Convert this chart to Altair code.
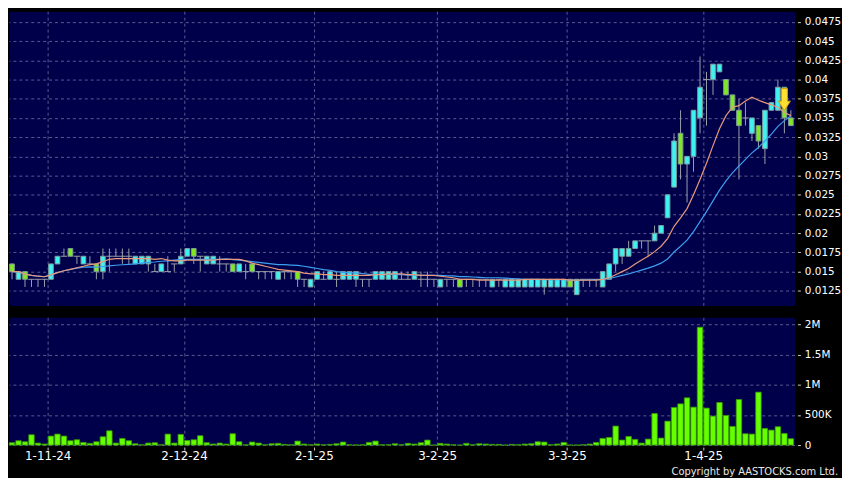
import altair as alt
import pandas as pd

# ---------------- data ----------------
bar_index = list(range(121))

opens = [0.016, 0.014, 0.015, 0.014, 0.014, 0.014, 0.014, 0.016, 0.017, 0.018,
         0.017, 0.016, 0.016, 0.016, 0.015, 0.017, 0.017, 0.017, 0.017, 0.016,
         0.016, 0.016, 0.015, 0.015, 0.015, 0.016, 0.016, 0.017, 0.018, 0.017,
         0.016, 0.016, 0.016, 0.016, 0.016, 0.015, 0.015, 0.016, 0.015, 0.015,
         0.015, 0.014, 0.015, 0.015, 0.015, 0.014, 0.013, 0.014, 0.014, 0.014,
         0.014, 0.014, 0.014, 0.014, 0.014, 0.014, 0.014, 0.014, 0.014, 0.014,
         0.014, 0.014, 0.014, 0.014, 0.014, 0.014, 0.013, 0.014, 0.014, 0.014,
         0.014, 0.014, 0.014, 0.014, 0.013, 0.014, 0.013, 0.013, 0.013, 0.013,
         0.013, 0.013, 0.013, 0.013, 0.013, 0.013, 0.014, 0.012, 0.014, 0.014,
         0.014, 0.013, 0.014, 0.016, 0.017, 0.017, 0.018, 0.019, 0.019, 0.019,
         0.020, 0.022, 0.026, 0.033, 0.029, 0.030, 0.035, 0.040, 0.040, 0.041,
         0.040, 0.038, 0.036, 0.035, 0.033, 0.034, 0.031, 0.036, 0.036, 0.039,
         0.035]
highs = [0.016, 0.015, 0.015, 0.014, 0.014, 0.014, 0.016, 0.017, 0.018, 0.018,
         0.017, 0.017, 0.017, 0.016, 0.018, 0.018, 0.018, 0.018, 0.018, 0.017,
         0.017, 0.017, 0.016, 0.016, 0.017, 0.016, 0.018, 0.018, 0.018, 0.017,
         0.017, 0.017, 0.017, 0.016, 0.016, 0.016, 0.016, 0.016, 0.015, 0.015,
         0.015, 0.015, 0.015, 0.015, 0.015, 0.014, 0.014, 0.015, 0.015, 0.015,
         0.015, 0.015, 0.015, 0.015, 0.014, 0.014, 0.015, 0.015, 0.015, 0.015,
         0.015, 0.015, 0.015, 0.015, 0.015, 0.014, 0.014, 0.014, 0.014, 0.014,
         0.014, 0.014, 0.014, 0.014, 0.014, 0.014, 0.014, 0.014, 0.014, 0.014,
         0.014, 0.014, 0.014, 0.014, 0.014, 0.014, 0.014, 0.014, 0.014, 0.014,
         0.014, 0.015, 0.016, 0.018, 0.018, 0.019, 0.019, 0.019, 0.019, 0.021,
         0.021, 0.025, 0.033, 0.036, 0.030, 0.036, 0.043, 0.041, 0.042, 0.042,
         0.040, 0.038, 0.0375, 0.037, 0.035, 0.034, 0.036, 0.037, 0.040, 0.039,
         0.036]
lows = [0.014, 0.014, 0.013, 0.013, 0.013, 0.013, 0.014, 0.016, 0.017, 0.017,
        0.016, 0.016, 0.016, 0.014, 0.014, 0.015, 0.017, 0.016, 0.016, 0.016,
        0.016, 0.015, 0.015, 0.015, 0.015, 0.015, 0.016, 0.017, 0.016, 0.015,
        0.016, 0.016, 0.015, 0.015, 0.015, 0.015, 0.014, 0.015, 0.014, 0.014,
        0.014, 0.014, 0.014, 0.014, 0.013, 0.013, 0.013, 0.014, 0.014, 0.014,
        0.013, 0.014, 0.014, 0.013, 0.013, 0.013, 0.014, 0.014, 0.014, 0.014,
        0.014, 0.014, 0.014, 0.013, 0.013, 0.013, 0.013, 0.013, 0.013, 0.013,
        0.013, 0.013, 0.013, 0.013, 0.013, 0.013, 0.013, 0.013, 0.013, 0.013,
        0.013, 0.013, 0.012, 0.013, 0.013, 0.013, 0.013, 0.012, 0.013, 0.013,
        0.013, 0.013, 0.014, 0.015, 0.016, 0.017, 0.018, 0.018, 0.017, 0.019,
        0.020, 0.022, 0.026, 0.027, 0.024, 0.028, 0.033, 0.034, 0.038, 0.041,
        0.038, 0.036, 0.027, 0.034, 0.032, 0.031, 0.029, 0.036, 0.036, 0.033,
        0.034]
closes = [0.015, 0.015, 0.014, 0.014, 0.014, 0.014, 0.016, 0.017, 0.017, 0.017,
          0.017, 0.017, 0.016, 0.015, 0.017, 0.017, 0.017, 0.017, 0.017, 0.017,
          0.017, 0.017, 0.015, 0.016, 0.015, 0.016, 0.017, 0.018, 0.017, 0.017,
          0.017, 0.017, 0.016, 0.016, 0.015, 0.016, 0.015, 0.015, 0.015, 0.015,
          0.015, 0.015, 0.015, 0.015, 0.014, 0.014, 0.014, 0.015, 0.014, 0.015,
          0.014, 0.015, 0.015, 0.015, 0.014, 0.014, 0.015, 0.015, 0.015, 0.015,
          0.014, 0.014, 0.015, 0.014, 0.014, 0.014, 0.014, 0.014, 0.014, 0.013,
          0.014, 0.014, 0.014, 0.014, 0.014, 0.014, 0.014, 0.014, 0.014, 0.014,
          0.014, 0.014, 0.014, 0.014, 0.014, 0.014, 0.013, 0.014, 0.014, 0.014,
          0.014, 0.015, 0.016, 0.018, 0.018, 0.018, 0.019, 0.019, 0.019, 0.020,
          0.021, 0.025, 0.032, 0.029, 0.030, 0.036, 0.039, 0.040, 0.042, 0.042,
          0.038, 0.036, 0.034, 0.035, 0.035, 0.032, 0.036, 0.037, 0.039, 0.035,
          0.034]
volume_k = [39, 72, 55, 171, 33, 17, 149, 182, 149, 72,
            88, 44, 28, 55, 138, 237, 33, 110, 72, 22,
            5, 33, 39, 5, 182, 33, 177, 77, 88, 155,
            39, 17, 33, 17, 188, 55, 5, 50, 33, 5,
            22, 28, 11, 5, 66, 17, 5, 17, 5, 11,
            22, 50, 5, 2, 5, 44, 66, 5, 5, 22,
            5, 28, 17, 39, 83, 0, 28, 17, 5, 0,
            28, 5, 22, 17, 11, 11, 0, 11, 5, 17,
            22, 55, 50, 5, 17, 44, 0, 0, 5, 17,
            44, 110, 127, 315, 83, 143, 94, 33, 99, 524,
            116, 397, 624, 684, 784, 629, 1955, 613, 480, 707,
            491, 309, 756, 188, 182, 878, 276, 248, 304, 193,
            105]

date_grid = [5.5, 26.5, 46.5, 65.5, 85.5, 106.5]
date_labels = ["1-11-24", "2-12-24", "2-1-25", "3-2-25", "3-3-25", "1-4-25"]
price_ticks = [0.0125, 0.015, 0.0175, 0.02, 0.0225, 0.025, 0.0275, 0.03,
               0.0325, 0.035, 0.0375, 0.04, 0.0425, 0.045, 0.0475]
volume_ticks = [0, 500000, 1000000, 1500000, 2000000]
signal_bar = [119]
signal_price = [0.0374]

# ---------------- styling ----------------
NAVY = "#00004a"
CYAN = "#3ff2f2"
LIME = "#80e81e"
WICK = "#9aa0a8"
GRIDC = "#5a5a92"
W = 793

df = pd.DataFrame({"i": bar_index, "open": opens, "high": highs, "low": lows,
                   "close": closes, "vol": [v * 1000 for v in volume_k]})
sig = pd.DataFrame({"i": signal_bar, "p": signal_price})

xscale = alt.Scale(domain=[-0.468, 120.55], nice=False, zero=False)
yscale = alt.Scale(domain=[0.0106, 0.04889], nice=False, zero=False)
vscale = alt.Scale(domain=[0, 2120000], nice=False)

label_expr = ("[" + ",".join("'%s'" % s for s in date_labels) + "][indexof(["
              + ",".join(str(v) for v in date_grid) + "], datum.value)]")

x_top_axis = alt.Axis(values=date_grid, labels=False, ticks=False, grid=True,
                      domain=False, title=None)
x_bot_axis = alt.Axis(values=date_grid, labelExpr=label_expr, grid=True,
                      domain=False, title=None, tickSize=3, offset=2,
                      labelPadding=1, labelFontSize=12, labelFlush=False)
y_axis = alt.Axis(orient="right", values=price_ticks, format=".4~f", grid=True,
                  tickSize=3, offset=3, labelPadding=4, title=None, domain=False,
                  labelFontSize=10.5)
v_axis = alt.Axis(orient="right", values=volume_ticks, grid=True, tickSize=3,
                  offset=3, labelPadding=4, title=None, domain=False,
                  labelFontSize=10.5,
                  labelExpr="datum.value == 0 ? '0' : (datum.value < 1000000 ? "
                            "format(datum.value/1000, '~f') + 'K' : "
                            "format(datum.value/1000000, '~f') + 'M')")


def X(f):
    return alt.X(f + ":Q", scale=xscale, axis=x_top_axis)


def Y(f):
    return alt.Y(f + ":Q", scale=yscale, axis=y_axis)


base = alt.Chart(df)

wicks = base.mark_rule(color=WICK, strokeWidth=1).encode(
    x=X("i"), y=Y("low"), y2="high")

dojis = base.transform_filter("datum.open == datum.close").transform_calculate(
    xa="datum.i - 0.5", xb="datum.i + 0.5"
).mark_rule(color=WICK, strokeWidth=1).encode(x=X("xa"), x2="xb", y=Y("open"))

bodies = base.transform_filter("datum.open != datum.close").transform_calculate(
    xa="datum.i - 0.36", xb="datum.i + 0.36",
    dir="datum.close > datum.open ? 'up' : 'down'"
).mark_bar(stroke="#7c9c9c", strokeWidth=1).encode(
    x=X("xa"), x2="xb", y=Y("open"), y2="close",
    color=alt.Color("dir:N", scale=alt.Scale(domain=["up", "down"], range=[CYAN, LIME]),
                    legend=None))

ma10 = base.transform_window(ma10="mean(close)", frame=[-9, 0],
                             sort=[alt.SortField("i")]).mark_line(
    color="#e89a7a", strokeWidth=1.2).encode(x=X("i"), y=Y("ma10"))
ma20 = base.transform_window(ma20="mean(close)", frame=[-19, 0],
                             sort=[alt.SortField("i")]).mark_line(
    color="#3d9ef0", strokeWidth=1.2).encode(x=X("i"), y=Y("ma20"))

arrow_path = "M -0.28 -1 L 0.28 -1 L 0.28 0.15 L 0.55 0.15 L 0 1 L -0.55 0.15 L -0.28 0.15 Z"
arrow = alt.Chart(sig).mark_point(shape=arrow_path, filled=True, size=484,
                                  fill="#ffe030", stroke="#d09a10", strokeWidth=1,
                                  opacity=1).encode(x=X("i"), y=Y("p"))

price = alt.layer(wicks, dojis, bodies, ma20, ma10, arrow).properties(width=W, height=297)

vbars = base.transform_calculate(xa="datum.i - 0.42", xb="datum.i + 0.42").mark_bar(
    color="#66ff00", stroke="#3a9a00", strokeWidth=0.8).encode(
    x=alt.X("xa:Q", scale=xscale, axis=x_bot_axis), x2="xb",
    y=alt.Y("vol:Q", scale=vscale, axis=v_axis), y2=alt.datum(0))

copyright_txt = alt.Chart(pd.DataFrame({"t": ["Copyright by AASTOCKS.com Ltd."]})).mark_text(
    align="right", baseline="middle", fontSize=10, color="#e8e8e8", font="DejaVu Sans"
).encode(x=alt.value(837), y=alt.value(156.5), text="t:N")

vol = alt.layer(vbars, copyright_txt).properties(width=W, height=129)

chart = alt.vconcat(price, vol, spacing=10).properties(
    padding=0,
    background="black",
).configure_view(fill=NAVY, stroke="transparent").configure_axis(
    gridColor=GRIDC, gridDash=[3, 3], gridWidth=1, labelColor="white",
    tickColor="#d0d0d0", labelFont="DejaVu Sans"
)

chart.save("out.html", embed_options={"renderer": "svg", "actions": False})
